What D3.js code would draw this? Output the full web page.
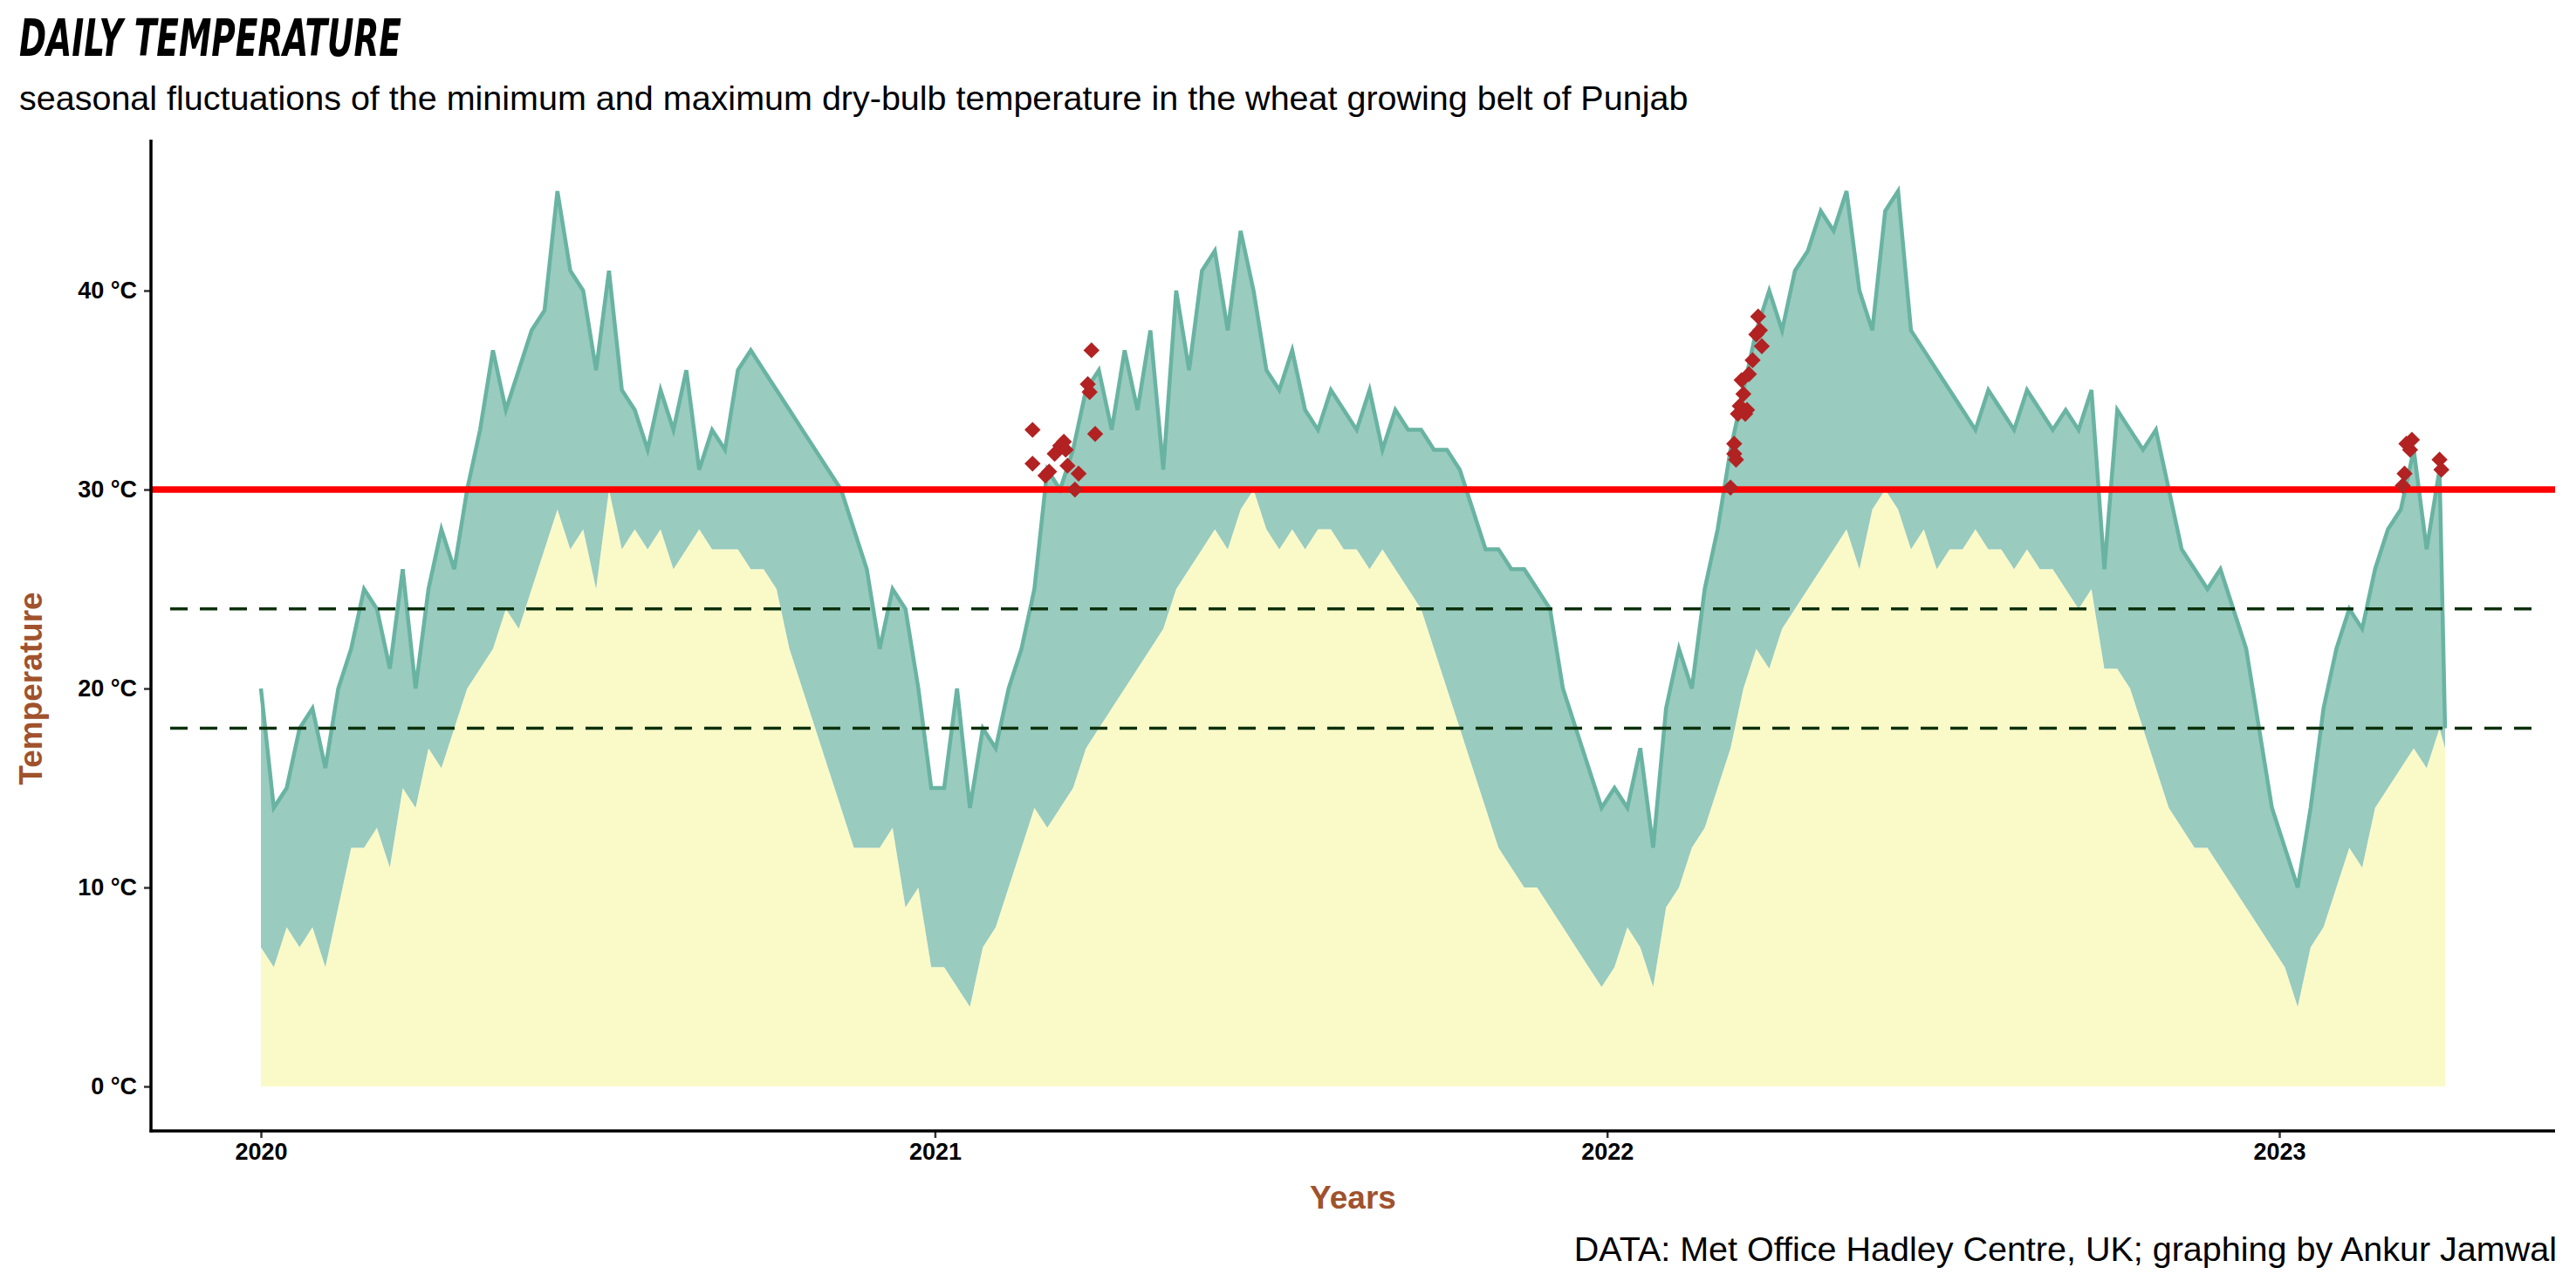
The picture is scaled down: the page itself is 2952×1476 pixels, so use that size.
<!DOCTYPE html>
<html>
<head>
<meta charset="utf-8">
<script src="https://cdn.jsdelivr.net/npm/d3@7"></script>
<style>
  body { margin: 0; background: #fff; }
  svg { display: block; }
</style>
</head>
<body>
<div id="chart"></div>
<script>
// weekly readings, starting 2020-01-01, one value every 7 days
const startDate = "2020-01-01";
const maxTemp = [
  // 2020
  20,14,15,18,19,16,20,22,25,24,21,26,20,25,28,26,30,33,37,34,36,38,39,45,41,40,36,41,35,34,
  32,35,33,36,31,33,32,36,37,36,35,34,33,32,31,30,28,26,22,25,24,20,15,
  // 2021
  15,20,14,18,17,20,22,25,31,30,32,35,36,33,37,34,38,31,40,36,41,42,38,43,40,36,
  35,37,34,33,35,34,33,35,32,34,33,33,32,32,31,29,27,27,26,26,25,24,20,18,16,14,
  // 2022
  15,14,17,12,19,22,20,25,28,32,35,38,40,38,41,42,44,43,45,40,38,44,45,38,37,
  36,35,34,33,35,34,33,35,34,33,34,33,35,26,34,33,32,33,30,27,26,25,26,24,22,18,14,
  // 2023
  12,10,14,19,22,24,23,26,28,29,32,27,31
];
const minTemp = [
  // 2020
  7,6,8,7,8,6,9,12,12,13,11,15,14,17,16,18,20,21,22,24,23,25,27,29,27,28,25,30,27,28,
  27,28,26,27,28,27,27,27,26,26,25,22,20,18,16,14,12,12,12,13,9,10,6,
  // 2021
  6,5,4,7,8,10,12,14,13,14,15,17,18,19,20,21,22,23,25,26,27,28,27,29,30,28,
  27,28,27,28,28,27,27,26,27,26,25,24,22,20,18,16,14,12,11,10,10,9,8,7,6,5,
  // 2022
  6,8,7,5,9,10,12,13,15,17,20,22,21,23,24,25,26,27,28,26,29,30,29,27,28,
  26,27,27,28,27,27,26,27,26,26,25,24,25,21,21,20,18,16,14,13,12,12,11,10,9,8,7,
  // 2023
  6,4,7,8,10,12,11,14,15,16,17,16,18
];
const lastDate = "2023-04-01", lastMax = 18, lastMin = 17;

// hot days in the wheat season (max above 30 °C)
const hotDates = [
  "2021-02-23","2021-02-23","2021-03-02","2021-03-04","2021-03-07","2021-03-10","2021-03-12","2021-03-13",
  "2021-03-14","2021-03-18","2021-03-20","2021-03-25","2021-03-26","2021-03-27","2021-03-29",
  "2022-03-09","2022-03-11","2022-03-11","2022-03-12","2022-03-13","2022-03-14","2022-03-15","2022-03-16",
  "2022-03-17","2022-03-18","2022-03-19","2022-03-21","2022-03-23","2022-03-24","2022-03-25","2022-03-26",
  "2023-03-09","2023-03-10","2023-03-11","2023-03-13","2023-03-14","2023-03-29","2023-03-30"
];
const hotTemps = [
  33.0,31.3,30.7,30.9,31.8,32.2,32.4,32.0,
  31.2,30.0,30.8,35.3,34.9,37.0,32.8,
  30.1,32.3,31.8,31.5,33.8,34.2,35.5,34.8,
  33.8,34.0,35.8,36.5,37.8,38.7,38.0,37.2,
  30.2,30.8,32.3,32.0,32.5,31.5,31.0
];
const yTicks = [0, 10, 20, 30, 40];
const yearTicks = ["2020-01-01","2021-01-01","2022-01-01","2023-01-01"];
const heatLimit = 30;
const optimumBand = [18, 24];

const W = 2952, H = 1476;
const parse = d3.timeParse("%Y-%m-%d");
const t0 = parse(startDate);

const data = maxTemp.map((m, i) => ({date: d3.timeDay.offset(t0, 7 * i), max: m, min: minTemp[i]}));
data.push({date: parse(lastDate), max: lastMax, min: lastMin});
const hot = hotDates.map((d, i) => ({date: parse(d), t: hotTemps[i]}));

const x = d3.scaleTime().domain([parse("2020-01-01"), parse("2023-01-01")]).range([299, 2612]);
const y = d3.scaleLinear().domain([0, 40]).range([1245, 333]);

const mLeft = 173, mRight = 2928, mBottom = 1296, mTop = 160;

const svg = d3.select("#chart").append("svg").attr("width", W).attr("height", H);

// areas
svg.append("path").datum(data)
  .attr("d", d3.area().x(d => x(d.date)).y0(y(0)).y1(d => y(d.min)))
  .style("fill", "#fafac8");
svg.append("path").datum(data)
  .attr("d", d3.area().x(d => x(d.date)).y0(d => y(d.min)).y1(d => y(d.max)))
  .style("fill", "#99cbbf");
svg.append("path").datum(data)
  .attr("d", d3.line().x(d => x(d.date)).y(d => y(d.max)))
  .style("fill", "none").style("stroke", "#69b3a2").style("stroke-width", 4.5);

// reference lines
optimumBand.forEach(v => {
  svg.append("line").attr("x1", 195).attr("x2", 2915).attr("y1", y(v)).attr("y2", y(v))
    .style("stroke", "#0b300b").style("stroke-width", 3.5).style("stroke-dasharray", "20,14");
});
svg.append("line").attr("x1", mLeft).attr("x2", mRight).attr("y1", y(heatLimit)).attr("y2", y(heatLimit))
  .style("stroke", "#ff0000").style("stroke-width", 7.5);

// hot day markers (square turned 45°)
svg.append("g").selectAll("path").data(hot).enter().append("path")
  .attr("transform", d => "translate(" + x(d.date) + "," + y(d.t) + ") rotate(45)")
  .attr("d", d3.symbol().type(d3.symbolSquare).size(170))
  .style("fill", "#b22222");

// axes
const yAxis = svg.append("g").attr("transform", "translate(" + mLeft + ",0)")
  .call(d3.axisLeft(y).tickValues(yTicks).tickFormat(d => d + " °C").tickSize(8).tickPadding(8));
const xAxis = svg.append("g").attr("transform", "translate(0," + mBottom + ")")
  .call(d3.axisBottom(x).tickValues(yearTicks.map(parse)).tickFormat(d3.timeFormat("%Y")).tickSize(8).tickPadding(6));
[yAxis, xAxis].forEach(g => {
  g.select(".domain").remove();
  g.selectAll("text").style("font-family", "Liberation Sans, Arial, sans-serif")
    .style("font-weight", "bold").style("font-size", "27px").style("fill", "#000");
  g.selectAll("line").style("stroke", "#333").style("stroke-width", 2.5);
});
svg.append("line").attr("x1", mLeft).attr("x2", mLeft).attr("y1", mTop).attr("y2", mBottom + 1.5)
  .style("stroke", "#000").style("stroke-width", 3.5);
svg.append("line").attr("x1", mLeft - 1.5).attr("x2", mRight).attr("y1", mBottom).attr("y2", mBottom)
  .style("stroke", "#000").style("stroke-width", 3.5);

// text
svg.append("text").attr("x", 22).attr("y", 64).text("DAILY TEMPERATURE")
  .style("font-family", "Liberation Sans Narrow, DejaVu Sans Condensed, sans-serif")
  .style("font-weight", "bold").style("font-style", "italic").style("font-size", "58px")
  .attr("textLength", 438).attr("lengthAdjust", "spacingAndGlyphs");
svg.append("text").attr("x", 22).attr("y", 126)
  .text("seasonal fluctuations of the minimum and maximum dry-bulb temperature in the wheat growing belt of Punjab")
  .style("font-family", "Liberation Sans, Arial, sans-serif").style("font-size", "39.5px");
svg.append("text").attr("transform", "translate(48," + y(20) + ") rotate(-90)")
  .attr("text-anchor", "middle").text("Temperature")
  .style("font-family", "Liberation Sans, Arial, sans-serif").style("font-weight", "bold")
  .style("font-size", "37px").style("fill", "#a0522d");
svg.append("text").attr("x", (mLeft + mRight) / 2).attr("y", 1385).attr("text-anchor", "middle").text("Years")
  .style("font-family", "Liberation Sans, Arial, sans-serif").style("font-weight", "bold")
  .style("font-size", "37px").style("fill", "#a0522d");
svg.append("text").attr("x", 2930).attr("y", 1445).attr("text-anchor", "end")
  .text("DATA: Met Office Hadley Centre, UK; graphing by Ankur Jamwal")
  .style("font-family", "Liberation Sans, Arial, sans-serif").style("font-size", "39.5px");
</script>
</body>
</html>
